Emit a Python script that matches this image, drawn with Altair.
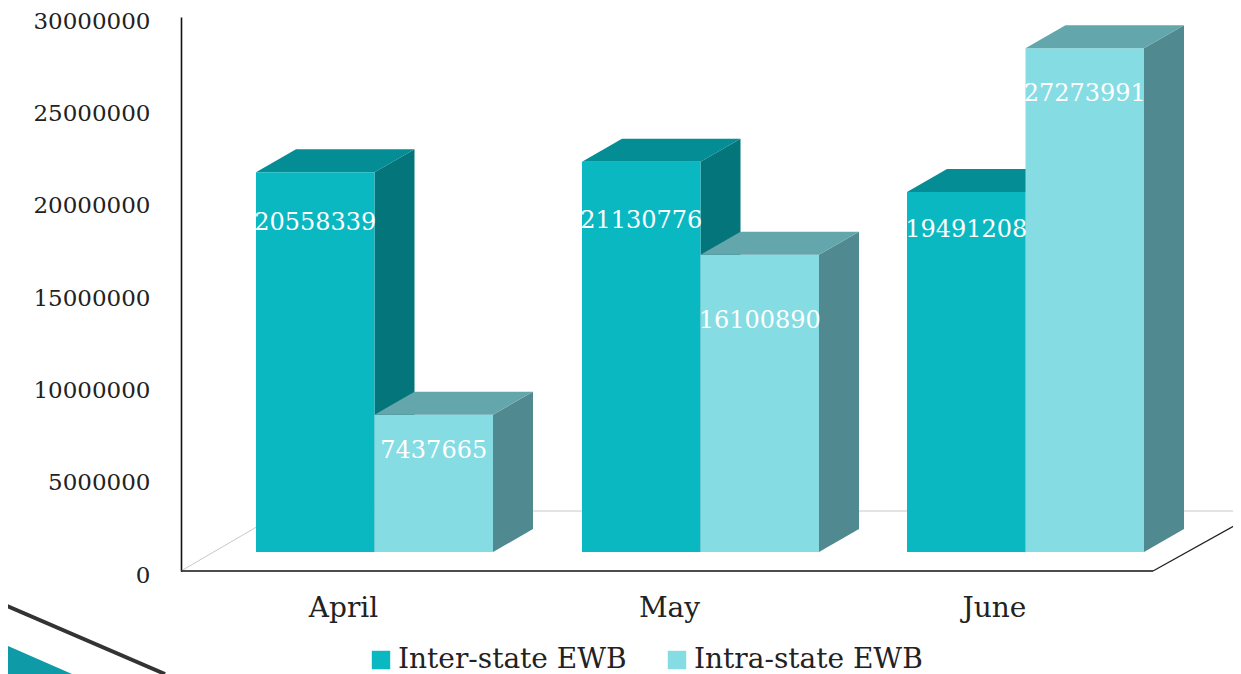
import altair as alt
import pandas as pd

months = ["April", "May", "June"]
series = ["Inter-state EWB", "Intra-state EWB"]
inter_state = [20558339, 21130776, 19491208]
intra_state = [7437665, 16100890, 27273991]
y_ticks = [0, 5000000, 10000000, 15000000, 20000000, 25000000, 30000000]

# layout (pixels of the picture)
X0, X1 = 181, 1233
Y_TOP, Y_ZERO = 17, 571
K = (Y_ZERO - Y_TOP) / 30000000
def py(p):
    return (Y_ZERO - p) / K
LIFT = 19 / K
DX, DEPTH = 40, 23 / K
BAR_LEFT = [256, 582, 907]
MONTH_CENTRE = [343, 669, 994]
BAR_W = 118.5
LABEL_DROP = {0: [50.5, 59.5, 37.5], 1: [36.5, 66.5, 45.5]}
FRONT = ["#0AB8C2", "#85DCE3"]
SIDE = ["#03757B", "#508A90"]
TOP = ["#048D94", "#63A6AC"]
FONT = "DejaVu Serif"

values = [inter_state, intra_state]
front, labels = [], []
side_rows = {0: [], 1: []}
top_rows = {0: [], 1: []}
for s, name in enumerate(series):
    for m, month in enumerate(months):
        v = values[s][m]
        a = BAR_LEFT[m] + s * BAR_W
        b = a + BAR_W
        t = v + LIFT
        front.append(dict(series=name, a=a, b=b, y=t, y2=LIFT))
        labels.append(dict(x=(a + b) / 2, y=t - LABEL_DROP[s][m] / K, text=str(v)))
        key = f"{s}{m}"
        side_rows[s] += [
            dict(k=key, x=b, y=LIFT, y2=t),
            dict(k=key, x=b + DX, y=LIFT + DEPTH, y2=t + DEPTH),
        ]
        top_rows[s] += [
            dict(k=key, x=a, y=t, y2=t),
            dict(k=key, x=a + DX, y=t, y2=t + DEPTH),
            dict(k=key, x=b, y=t, y2=t + DEPTH),
            dict(k=key, x=b + DX, y=t + DEPTH, y2=t + DEPTH),
        ]

x_scale = alt.Scale(domain=[X0, X1], nice=False, zero=False)
y_scale = alt.Scale(domain=[0, 30000000], nice=False, zero=False)
label_expr = f"datum.value < {MONTH_CENTRE[1] - 50} ? '{months[0]}' : datum.value < {MONTH_CENTRE[2] - 50} ? '{months[1]}' : '{months[2]}'"

def rule(x, y, x2, y2, color, w):
    df = pd.DataFrame([dict(x=x, y=py(y), x2=x2, y2=py(y2))])
    return alt.Chart(df).mark_rule(color=color, strokeWidth=w).encode(
        x=alt.X("x:Q", scale=x_scale), x2="x2:Q",
        y=alt.Y("y:Q", scale=y_scale), y2="y2:Q")

def faces(rows, color):
    return alt.Chart(pd.DataFrame(rows)).mark_area(color=color, orient="vertical", interpolate="linear", opacity=1).encode(
        x=alt.X("x:Q", scale=x_scale),
        y=alt.Y("y:Q", scale=y_scale, stack=None),
        y2="y2:Q",
        detail="k:N",
    )

base = alt.Chart(pd.DataFrame({"x": MONTH_CENTRE, "y": [0, 0, 0]})).mark_point(opacity=0).encode(
    x=alt.X("x:Q", scale=x_scale, title=None,
            axis=alt.Axis(values=MONTH_CENTRE, labelExpr=label_expr, domain=False, ticks=False, grid=False,
                          labelFont=FONT, labelFontSize=28, labelColor="#222222", labelPadding=23)),
    y=alt.Y("y:Q", scale=y_scale, title=None,
            axis=alt.Axis(values=y_ticks, format="d", domainColor="#111111", domainWidth=1.6, ticks=False, grid=False,
                          labelFont=FONT, labelFontSize=23, labelColor="#222222", labelPadding=31, labelOffset=4)),
)

teal_line = [dict(k="a", x=8, y=py(646), y2=py(674)), dict(k="a", x=72, y=py(674), y2=py(674))]

front_layer = alt.Chart(pd.DataFrame(front)).mark_rect().encode(
    x=alt.X("a:Q", scale=x_scale), x2="b:Q",
    y=alt.Y("y:Q", scale=y_scale), y2="y2:Q",
    color=alt.Color("series:N", scale=alt.Scale(domain=series, range=FRONT), title=None,
                    legend=alt.Legend(orient="none", legendX=186, legendY=629, direction="horizontal", columns=2,
                                      symbolType="square", symbolSize=340, symbolStrokeWidth=0, symbolOpacity=1,
                                      labelFont=FONT, labelFontSize=28, labelColor="#222222", labelOffset=3,
                                      columnPadding=36, labelLimit=400)),
)

text_layer = alt.Chart(pd.DataFrame(labels)).mark_text(font=FONT, fontSize=24, color="white", baseline="middle", align="center").encode(
    x=alt.X("x:Q", scale=x_scale), y=alt.Y("y:Q", scale=y_scale), text="text:N")

chart = alt.layer(
    base,
    rule(X0, 571, 284, 511, "#c8c8c8", 1),
    rule(284, 511, 1241, 511, "#c8c8c8", 1),
    rule(X0, 571, 1153, 571, "#111111", 1.6),
    rule(1153, 571, 1241, 522, "#222222", 1.4),
    rule(0, 603, 165, 674, "#333333", 4),
    faces(teal_line, "#0E9AA7"),
    faces(side_rows[0], SIDE[0]),
    faces(top_rows[0], TOP[0]),
    front_layer,
    faces(side_rows[1], SIDE[1]),
    faces(top_rows[1], TOP[1]),
    text_layer,
).properties(
    width=X1 - X0, height=Y_ZERO - Y_TOP,
    autosize=alt.AutoSizeParams(type="none"),
    padding={"left": 173, "top": 9, "right": 0, "bottom": 103},
    background="white",
).configure_view(stroke=None)

chart.save("out.html", embed_options={"renderer": "svg", "actions": False})
